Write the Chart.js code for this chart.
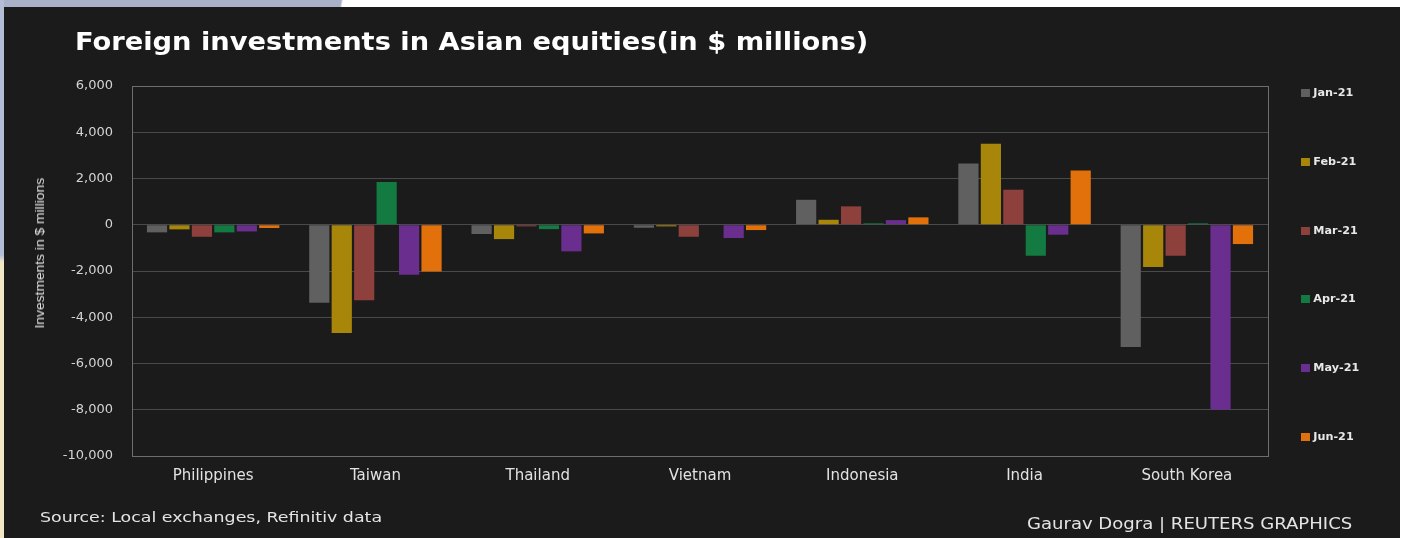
<!DOCTYPE html>
<html>
<head>
<meta charset="utf-8">
<script src="https://cdn.jsdelivr.net/npm/chart.js@4.4.1/dist/chart.umd.min.js"></script>
<style>
  body { margin: 0; width: 1405px; height: 538px; position: relative; overflow: hidden;
         background: #ffffff; font-family: "DejaVu Sans", sans-serif; }
  .edge-top { position: absolute; left: 0; top: 0; width: 1405px; height: 7px;
              background: linear-gradient(100deg, #a9b1c9 0, #a9b1c9 336px, #ffffff 338px); }
  .edge-left { position: absolute; left: 0; top: 0; width: 4px; height: 538px;
               background: linear-gradient(#b3bed6 0, #b3bed6 255px, #f1e6c6 262px, #f1e6c6 100%); }
  .panel { position: absolute; left: 4px; top: 7px; width: 1396px; height: 531px; background: #1b1b1c; }
  canvas { position: absolute; left: 0; top: 0; }
  .txt { position: absolute; white-space: nowrap; }
  #title { left: 75px; top: 29px; font-size: 25px; line-height: 25px; font-weight: bold; color: #ffffff; transform-origin: left center; }
  #ytitle { left: 39px; top: 253px; font-family: "Liberation Sans", sans-serif; font-size: 13px; line-height: 13px; color: #e2e2e2; }
  #source { left: 40px; top: 510px; font-size: 14px; line-height: 14px; color: #e4e4e4; transform-origin: left center; }
  #credit { right: 53px; top: 517px; font-size: 15px; line-height: 15px; color: #e4e4e4; transform-origin: right center; }
  .leg { position: absolute; left: 1301px; font-size: 10px; line-height: 10px; color: #e8e8e8; font-weight: bold;
         display: flex; align-items: center; transform-origin: left center; }
  .leg i { display: inline-block; width: 8px; height: 8px; margin-right: 3px; }
</style>
</head>
<body>
<div class="edge-top"></div>
<div class="edge-left"></div>
<div class="panel"></div>
<canvas id="myChart" width="1405" height="538"></canvas>
<div class="txt" id="title">Foreign investments in Asian equities(in $ millions)</div>
<div class="txt" id="ytitle">Investments in $ millions</div>
<div class="txt" id="source">Source: Local exchanges, Refinitiv data</div>
<div class="txt" id="credit">Gaurav Dogra | REUTERS GRAPHICS</div>
<div id="legend"></div>

<script>
// countries on the x axis, one series per month
const countries = ['Philippines', 'Taiwan', 'Thailand', 'Vietnam', 'Indonesia', 'India', 'South Korea'];
const months = ['Jan-21', 'Feb-21', 'Mar-21', 'Apr-21', 'May-21', 'Jun-21'];

// net flows, $ millions
const jan21 = [-330, -3370, -400, -130, 1080, 2650, -5290];
const feb21 = [-200, -4685, -620, -70, 215, 3500, -1830];
const mar21 = [-520, -3260, -70, -520, 795, 1515, -1340];
const apr21 = [-330, 1845, -190, -20, 60, -1340, 60];
const may21 = [-290, -2160, -1150, -575, 200, -430, -8000];
const jun21 = [-140, -2020, -375, -230, 320, 2350, -835];

const yTicks = [6000, 4000, 2000, 0, -2000, -4000, -6000, -8000, -10000];

const colors = ['#606060', '#a8860a', '#8e403c', '#137a42', '#6a2f8e', '#e2710b'];
const series = [jan21, feb21, mar21, apr21, may21, jun21];

// stretch a text box horizontally to a given width
function fit(el, w, extra) {
  const r = w / el.offsetWidth;
  el.style.transform = (extra || '') + ' scaleX(' + r + ')';
}
fit(document.getElementById('title'), 793);
fit(document.getElementById('source'), 342);
fit(document.getElementById('credit'), 325);
const yt = document.getElementById('ytitle');
yt.style.transformOrigin = 'left top';
yt.style.transform = 'translate(-6px, 0)';
const yw = yt.offsetWidth;
yt.style.transform = 'translate(-' + (yw / 2 + 6) + 'px, -6px) rotate(-90deg) scaleX(' + (151 / yw) + ')';
yt.style.transformOrigin = (yw / 2) + 'px 6px';
yt.style.transform = 'translate(-' + (yw / 2) + 'px, -6px) rotate(-90deg) scaleX(' + (151 / yw) + ')';

// legend down the right side
const legend = document.getElementById('legend');
months.forEach(function (m, i) {
  const d = document.createElement('div');
  d.className = 'leg';
  d.style.top = (88 + i * 68.8) + 'px';
  d.innerHTML = '<i style="background:' + colors[i] + '"></i>' + m;
  legend.appendChild(d);
  d.style.transform = 'scaleX(1.12)';
});

// outline round the plot area
const plotFrame = {
  id: 'plotFrame',
  afterDraw(chart) {
    const a = chart.chartArea;
    const c = chart.ctx;
    c.save();
    c.strokeStyle = '#6e6e6e';
    c.lineWidth = 1;
    c.strokeRect(Math.round(a.left) + 0.5, Math.round(a.top) + 0.5, Math.round(a.right - a.left), Math.round(a.bottom - a.top));
    c.restore();
  }
};

const ctx = document.getElementById('myChart').getContext('2d');
new Chart(ctx, {
  type: 'bar',
  data: {
    labels: countries,
    datasets: series.map(function (s, i) {
      return {
        label: months[i],
        data: s,
        backgroundColor: colors[i],
        borderWidth: 0,
        categoryPercentage: 0.83,
        barPercentage: 0.9
      };
    })
  },
  plugins: [plotFrame],
  options: {
    responsive: false,
    animation: false,
    devicePixelRatio: 1,
    layout: {
      padding: { left: 0, top: 86, right: 137, bottom: 42 }
    },
    scales: {
      y: {
        min: yTicks[yTicks.length - 1],
        max: yTicks[0],
        afterFit: function (scale) { scale.width = 132; },
        afterBuildTicks: function (scale) {
          scale.ticks = yTicks.map(function (v) { return { value: v }; });
        },
        ticks: {
          padding: 19,
          color: '#d4d4d4',
          font: { family: 'DejaVu Sans', size: 13 },
          callback: function (value) { return value.toLocaleString('en-US'); }
        },
        grid: {
          color: '#4a4a4a',
          drawTicks: false
        },
        border: { display: false }
      },
      x: {
        afterFit: function (scale) { scale.height = 40; },
        ticks: {
          padding: 11,
          color: '#e2e2e2',
          font: { family: 'DejaVu Sans', size: 15 }
        },
        grid: { display: false, drawTicks: false },
        border: { display: false }
      }
    },
    plugins: {
      legend: { display: false },
      tooltip: { enabled: false }
    }
  }
});
</script>
</body>
</html>
